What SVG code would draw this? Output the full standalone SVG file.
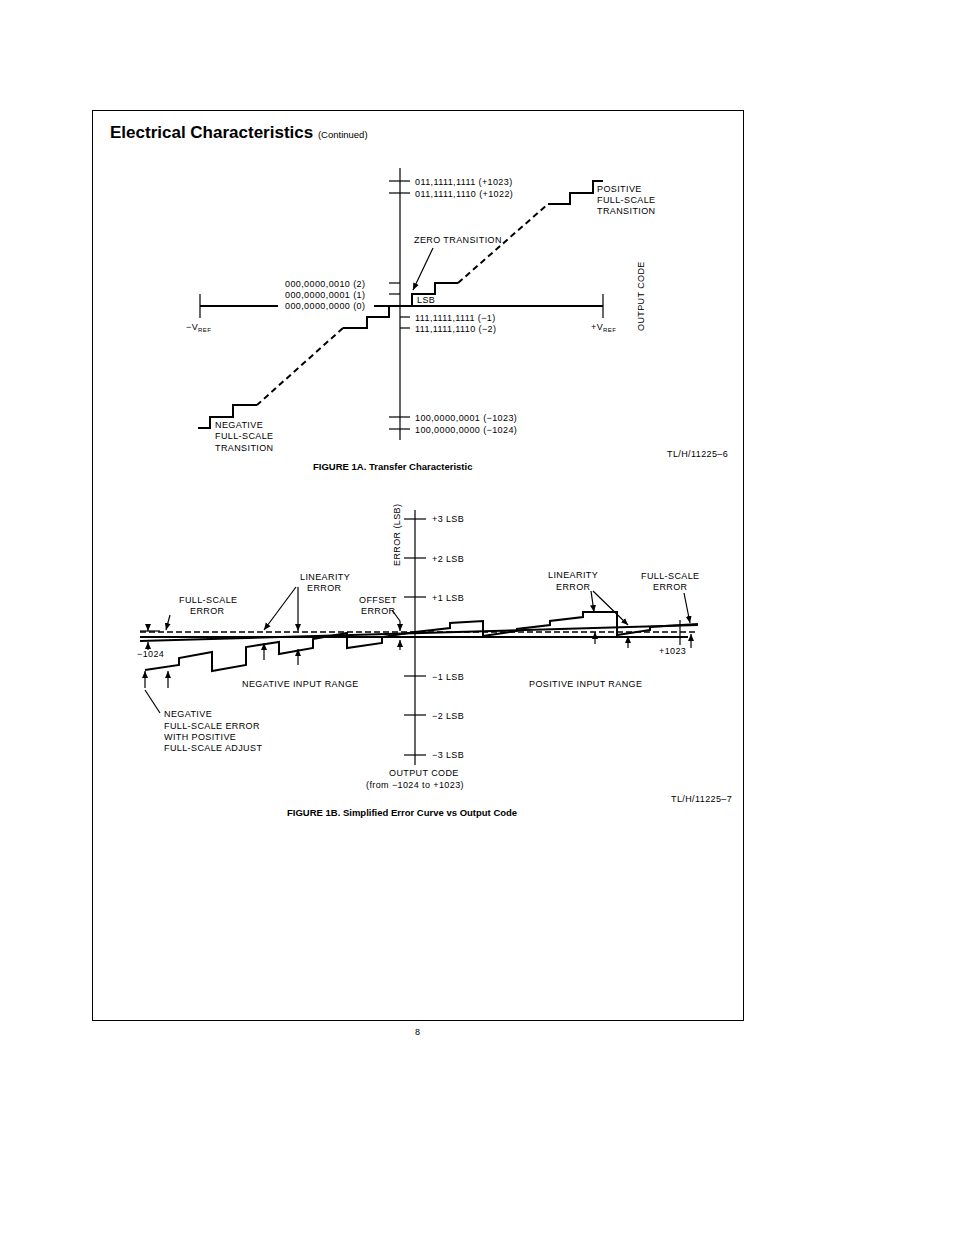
<svg xmlns="http://www.w3.org/2000/svg" width="954" height="1235" viewBox="0 0 954 1235">
<style>
.t{font-family:"Liberation Sans",Arial,sans-serif;font-size:9px;letter-spacing:0.4px;fill:#000}
.b{font-family:"Liberation Sans",Arial,sans-serif;font-weight:bold;fill:#000}
.l{stroke:#000;stroke-width:1.2;fill:none}
.h{stroke:#000;stroke-width:2;fill:none}
.d{stroke:#000;stroke-width:2;fill:none;stroke-dasharray:6,4}
.dd{stroke:#000;stroke-width:1.5;fill:none;stroke-dasharray:6,3}
</style>
<defs><marker id="a" markerWidth="8" markerHeight="8" refX="7" refY="4" orient="auto" markerUnits="userSpaceOnUse"><path d="M0,1 L7,4 L0,7 z" fill="#000"/></marker></defs>
<rect width="954" height="1235" fill="#fff"/>
<rect x="92.5" y="110.5" width="651" height="910" fill="none" stroke="#000" stroke-width="1"/>
<text x="110" y="138" class="b" font-size="17">Electrical Characteristics <tspan font-size="9.5" font-weight="normal">(Continued)</tspan></text>
<g id="fig1a">
<g id="axes1a">
<line class="l" x1="400" y1="168" x2="400" y2="440"/>
<line class="h" x1="200" y1="306" x2="278" y2="306"/><line class="h" x1="374" y1="306" x2="603" y2="306"/>
<line class="l" x1="200" y1="294" x2="200" y2="318"/><line class="l" x1="603" y1="294" x2="603" y2="318"/>
<line class="l" x1="389" y1="181" x2="410" y2="181"/><line class="l" x1="389" y1="193" x2="410" y2="193"/>
<line class="l" x1="389" y1="283" x2="400" y2="283"/><line class="l" x1="389" y1="294" x2="400" y2="294"/>
<line class="l" x1="400" y1="317" x2="410" y2="317"/><line class="l" x1="400" y1="328" x2="410" y2="328"/>
<line class="l" x1="389" y1="417" x2="410" y2="417"/><line class="l" x1="389" y1="429" x2="410" y2="429"/>
</g>
<g id="curve1a">
<polyline class="h" points="412,306 412,294 435,294 435,283 458,283"/>
<line class="d" x1="458" y1="283" x2="548" y2="204"/>
<polyline class="h" points="548,204 570,204 570,193 593,193 593,181 603,181"/>
<polyline class="h" points="400,306 389,306 389,317 367,317 367,328 343,328"/>
<line class="d" x1="343" y1="328" x2="257" y2="405"/>
<polyline class="h" points="257,405 233,405 233,417 210,417 210,428 198,428"/>
<line class="l" x1="433" y1="248" x2="413" y2="290" marker-end="url(#a)"/>
</g>
<g id="labels1a">
<text class="t" x="415" y="185">011,1111,1111 (+1023)</text>
<text class="t" x="415" y="197">011,1111,1110 (+1022)</text>
<text class="t" x="597" y="192">POSITIVE</text><text class="t" x="597" y="203">FULL-SCALE</text><text class="t" x="597" y="214">TRANSITION</text>
<text class="t" x="414" y="243">ZERO TRANSITION</text>
<text class="t" x="285" y="287">000,0000,0010 (2)</text>
<text class="t" x="285" y="298">000,0000,0001 (1)</text>
<text class="t" x="285" y="309">000,0000,0000 (0)</text>
<text class="t" x="417" y="303" font-size="7.5">LSB</text>
<text class="t" x="415" y="321">111,1111,1111 (−1)</text>
<text class="t" x="415" y="332">111,1111,1110 (−2)</text>
<text class="t" x="186" y="330">−V<tspan font-size="6" dy="2">REF</tspan></text>
<text class="t" x="591" y="330">+V<tspan font-size="6" dy="2">REF</tspan></text>
<text class="t" transform="translate(644,331) rotate(-90)">OUTPUT CODE</text>
<text class="t" x="415" y="421">100,0000,0001 (−1023)</text>
<text class="t" x="415" y="433">100,0000,0000 (−1024)</text>
<text class="t" x="215" y="428">NEGATIVE</text><text class="t" x="215" y="439">FULL-SCALE</text><text class="t" x="215" y="451">TRANSITION</text>
<text class="t" x="667" y="457" font-size="7.5" letter-spacing="0">TL/H/11225–6</text>
<text class="b" x="313" y="470" font-size="9.5">FIGURE 1A. Transfer Characteristic</text>
</g>
</g>
<g id="fig1b">
<g id="axes1b">
<line class="l" x1="415" y1="510" x2="415" y2="765"/>
<line class="l" x1="404" y1="519" x2="426" y2="519"/><line class="l" x1="404" y1="558" x2="426" y2="558"/><line class="l" x1="404" y1="597" x2="426" y2="597"/>
<line class="l" x1="404" y1="676" x2="426" y2="676"/><line class="l" x1="404" y1="715" x2="426" y2="715"/><line class="l" x1="404" y1="755" x2="426" y2="755"/>
<line class="h" x1="140" y1="637" x2="688" y2="637"/>
<line class="dd" x1="140" y1="632" x2="698" y2="632"/>
<line class="h" x1="140" y1="641" x2="698" y2="625"/>
</g>
<g id="curve1b">
<polyline class="h" points="145,670 179,665 179,658 212,652 212,671 246,665 246,647 279,642 279,654 313,648 313,639 347,633 347,648 382,643 382,637 415,632 450,628 450,623 483,621 483,636 517,631 517,629 550,625 550,621 583,617 583,612 617,612 617,635 650,630 650,627 698,624"/>
</g>
<g id="arrows1b">
<line class="l" x1="148" y1="624" x2="148" y2="631" marker-end="url(#a)"/><line class="l" x1="148" y1="650" x2="148" y2="642" marker-end="url(#a)"/>
<line class="l" x1="140" y1="631" x2="160" y2="631"/>
<line class="l" x1="145" y1="688" x2="145" y2="671" marker-end="url(#a)"/>
<line class="l" x1="168" y1="688" x2="168" y2="671" marker-end="url(#a)"/>
<line class="l" x1="170" y1="615" x2="166" y2="630" marker-end="url(#a)"/>
<line class="l" x1="296" y1="587" x2="264" y2="630" marker-end="url(#a)"/>
<line class="l" x1="298" y1="587" x2="298" y2="631" marker-end="url(#a)"/>
<line class="l" x1="264" y1="660" x2="264" y2="643" marker-end="url(#a)"/>
<line class="l" x1="298" y1="665" x2="298" y2="649" marker-end="url(#a)"/>
<line class="l" x1="392" y1="610" x2="400" y2="621"/><line class="l" x1="400" y1="621" x2="400" y2="631" marker-end="url(#a)"/>
<line class="l" x1="400" y1="650" x2="400" y2="640" marker-end="url(#a)"/>
<line class="l" x1="591" y1="591" x2="594" y2="612" marker-end="url(#a)"/>
<line class="l" x1="593" y1="591" x2="628" y2="625" marker-end="url(#a)"/>
<line class="l" x1="595" y1="644" x2="595" y2="632" marker-end="url(#a)"/>
<line class="l" x1="628" y1="648" x2="628" y2="636" marker-end="url(#a)"/>
<line class="l" x1="684" y1="593" x2="690" y2="623" marker-end="url(#a)"/>
<line class="l" x1="680" y1="620" x2="680" y2="645"/>
<line class="l" x1="691" y1="648" x2="691" y2="634" marker-end="url(#a)"/>
</g>
<g id="labels1b">
<text class="t" transform="translate(400,566) rotate(-90)">ERROR (LSB)</text>
<text class="t" x="432" y="522">+3 LSB</text><text class="t" x="432" y="562">+2 LSB</text><text class="t" x="432" y="601">+1 LSB</text>
<text class="t" x="432" y="680">−1 LSB</text><text class="t" x="432" y="719">−2 LSB</text><text class="t" x="432" y="758">−3 LSB</text>
<text class="t" x="300" y="580">LINEARITY</text><text class="t" x="307" y="591">ERROR</text>
<text class="t" x="179" y="603">FULL-SCALE</text><text class="t" x="190" y="614">ERROR</text>
<text class="t" x="359" y="603">OFFSET</text><text class="t" x="361" y="614">ERROR</text>
<text class="t" x="548" y="578">LINEARITY</text><text class="t" x="556" y="590">ERROR</text>
<text class="t" x="641" y="579">FULL-SCALE</text><text class="t" x="653" y="590">ERROR</text>
<text class="t" x="137" y="657">−1024</text>
<text class="t" x="659" y="654">+1023</text>
<text class="t" x="242" y="687">NEGATIVE INPUT RANGE</text>
<text class="t" x="529" y="687">POSITIVE INPUT RANGE</text>
<text class="t" x="164" y="717">NEGATIVE</text>
<text class="t" x="164" y="729">FULL-SCALE ERROR</text>
<text class="t" x="164" y="740">WITH POSITIVE</text>
<text class="t" x="164" y="751">FULL-SCALE ADJUST</text>
<line class="l" x1="145" y1="690" x2="160" y2="713"/>
<text class="t" x="389" y="776">OUTPUT CODE</text>
<text class="t" x="366" y="788">(from −1024 to +1023)</text>
<text class="t" x="671" y="802" font-size="7.5" letter-spacing="0">TL/H/11225–7</text>
<text class="b" x="287" y="816" font-size="9.5">FIGURE 1B. Simplified Error Curve vs Output Code</text>
</g>
</g>
<text class="t" x="415" y="1035" font-size="10">8</text>
</svg>
